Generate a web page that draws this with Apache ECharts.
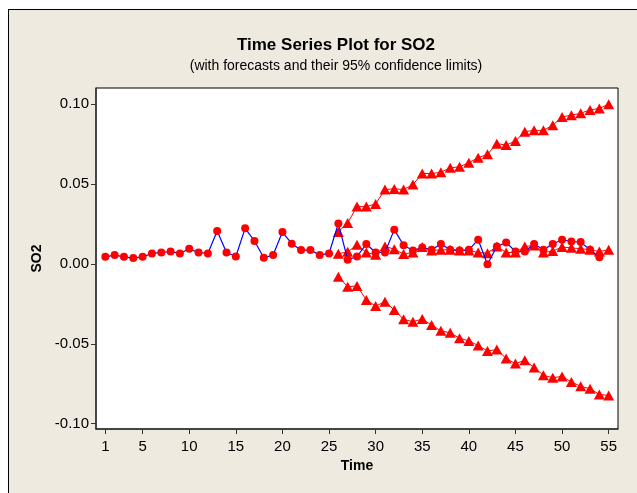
<!DOCTYPE html>
<html>
<head>
<meta charset="utf-8">
<script src="https://cdn.jsdelivr.net/npm/echarts@6/dist/echarts.min.js"></script>
<style>
  html, body { margin: 0; padding: 0; background: #fff; }
  .wrap { position: relative; width: 637px; height: 493px; overflow: hidden; }
  .panel {
    position: absolute; left: 8px; top: 9px; width: 700px; height: 600px;
    background: #eeeae0; border-left: 1px solid #000; border-top: 1px solid #000;
  }
  #chart { position: absolute; left: 0; top: 0; width: 637px; height: 493px; }
</style>
</head>
<body>
<div class="wrap">
  <div class="panel"></div>
  <div id="chart"></div>
</div>
<script>
// observed SO2, time 1..54
var obsStart = 1;
var obsValues = [
  0.0044, 0.0055, 0.0044, 0.0036, 0.0044, 0.0065, 0.0071, 0.0077, 0.0065, 0.0094,
  0.0071, 0.0065, 0.0205, 0.0071, 0.0046, 0.0222, 0.0143, 0.0038, 0.0055, 0.0199,
  0.0126, 0.0086, 0.0086, 0.0055, 0.0065, 0.0253, 0.0025, 0.0046, 0.0124, 0.0071,
  0.0071, 0.0214, 0.0116, 0.0084, 0.0102, 0.0088, 0.0124, 0.0088, 0.0084, 0.0088,
  0.0151, -0.0002, 0.0109, 0.0134, 0.0077, 0.0077, 0.0124, 0.0088, 0.0124, 0.0151,
  0.0140, 0.0136, 0.0088, 0.0042
];
// forecasts and 95% limits, time 26..55
var fcStart = 26;
var forecast = [
  0.0063, 0.0075, 0.0119, 0.0071, 0.0057, 0.0109, 0.0092, 0.0061, 0.0071, 0.0105,
  0.0084, 0.0088, 0.0088, 0.0084, 0.0084, 0.0071, 0.0067, 0.0109, 0.0071, 0.0071,
  0.0109, 0.0115, 0.0071, 0.0080, 0.0105, 0.0100, 0.0095, 0.0088, 0.0077, 0.0088
];
var upper = [
  0.0200, 0.0256, 0.0358, 0.0358, 0.0375, 0.0465, 0.0469, 0.0465, 0.0496, 0.0565,
  0.0565, 0.0573, 0.0601, 0.0607, 0.0633, 0.0664, 0.0685, 0.0752, 0.0743, 0.0768,
  0.0827, 0.0835, 0.0835, 0.0867, 0.0919, 0.0930, 0.0942, 0.0963, 0.0972, 0.0999
];
var lower = [
  -0.0080, -0.0143, -0.0138, -0.0226, -0.0264, -0.0237, -0.0289, -0.0347, -0.0362, -0.0345,
  -0.0383, -0.0419, -0.0431, -0.0465, -0.0482, -0.0511, -0.0545, -0.0536, -0.0592, -0.0624,
  -0.0603, -0.0649, -0.0697, -0.0712, -0.0704, -0.0739, -0.0766, -0.0781, -0.0817, -0.0823
];
var xTicks = [1, 5, 10, 15, 20, 25, 30, 35, 40, 45, 50, 55];
var yTicks = [-0.10, -0.05, 0.00, 0.05, 0.10];

function pairs(start, vals) {
  return vals.map(function (v, i) { return [start + i, v]; });
}

var font = 'Liberation Sans';
var chart = echarts.init(document.getElementById('chart'), null, { renderer: 'canvas' });

function triSeries(vals) {
  return {
    type: 'line',
    data: pairs(fcStart, vals),
    symbol: 'triangle',
    symbolSize: [11, 10],
    clip: false,
    itemStyle: { color: '#ff0000' },
    lineStyle: { color: '#ff0000', width: 1 },
    emphasis: { disabled: true },
    z: 2
  };
}

chart.setOption({
  animation: false,
  backgroundColor: 'transparent',
  title: {
    text: 'Time Series Plot for SO2',
    subtext: '(with forecasts and their 95% confidence limits)',
    left: 331,
    textAlign: 'center',
    top: 32,
    itemGap: 5,
    textStyle: { fontFamily: font, fontSize: 17, fontWeight: 'bold', color: '#000' },
    subtextStyle: { fontFamily: font, fontSize: 14, color: '#000' }
  },
  grid: {
    left: 96,
    right: 19,
    top: 88,
    bottom: 64,
    show: true,
    backgroundColor: '#fff',
    borderColor: '#000',
    borderWidth: 1
  },
  xAxis: {
    type: 'value',
    min: 0,
    max: 56,
    name: 'Time',
    nameLocation: 'middle',
    nameGap: 30,
    nameTextStyle: { fontFamily: font, fontSize: 14, fontWeight: 'bold', color: '#000' },
    axisLine: { show: true, onZero: false, lineStyle: { color: '#333', width: 1.5 } },
    axisTick: { customValues: xTicks, length: 5, lineStyle: { color: '#333' } },
    axisLabel: { customValues: xTicks, margin: 10, fontFamily: font, fontSize: 15, color: '#000' },
    splitLine: { show: false }
  },
  yAxis: {
    type: 'value',
    min: -0.1033,
    max: 0.11,
    name: 'SO2',
    nameLocation: 'middle',
    nameRotate: 90,
    nameGap: 51,
    nameTextStyle: { fontFamily: font, fontSize: 14, fontWeight: 'bold', color: '#000' },
    axisLine: { show: true, onZero: false, lineStyle: { color: '#333', width: 1.5 } },
    axisTick: { customValues: yTicks, length: 5, lineStyle: { color: '#333' } },
    axisLabel: {
      customValues: yTicks,
      margin: 7,
      fontFamily: font,
      fontSize: 15,
      color: '#000',
      formatter: function (v) { return v.toFixed(2); }
    },
    splitLine: { show: false }
  },
  series: [
    triSeries(upper),
    triSeries(lower),
    triSeries(forecast),
    {
      // observed data
      type: 'line',
      data: pairs(obsStart, obsValues),
      symbol: 'circle',
      symbolSize: 8,
      clip: false,
      itemStyle: { color: '#ff0000' },
      lineStyle: { color: '#0000ff', width: 1.2 },
      emphasis: { disabled: true },
      z: 3
    }
  ]
});
</script>
</body>
</html>
